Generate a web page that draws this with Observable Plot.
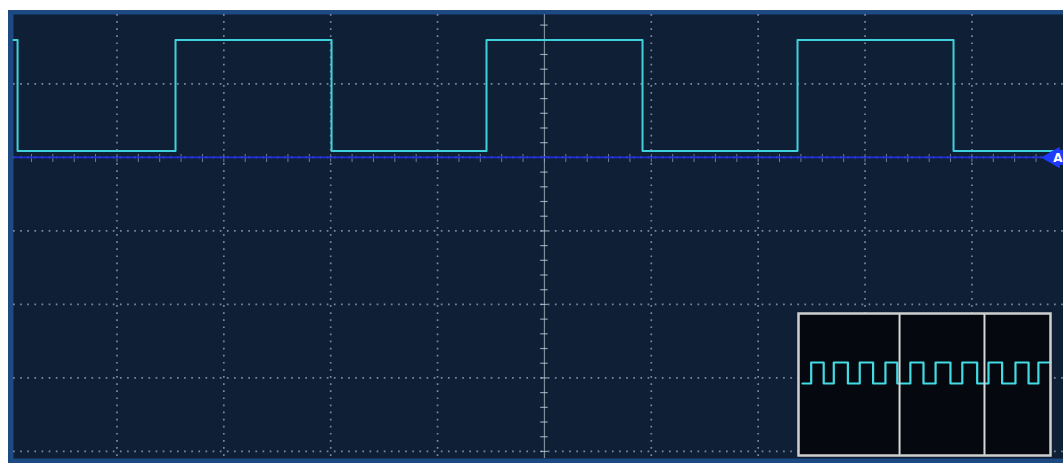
<!DOCTYPE html>
<html>
<head>
<meta charset="utf-8">
<script src="https://cdn.jsdelivr.net/npm/d3@7"></script>
<script src="https://cdn.jsdelivr.net/npm/@observablehq/plot@0.6"></script>
<style>
  html, body { margin: 0; padding: 0; background: #ffffff; overflow: hidden; }
  #wrap { position: relative; width: 1063px; height: 463px; overflow: hidden; background: #ffffff; }
  #border { position: absolute; left: 8px; top: 10px; width: 1055px; height: 453px; background: #1d4a83; }
  #main { position: absolute; left: 0; top: 0; }
  #inset { position: absolute; left: 796px; top: 311px; }
</style>
</head>
<body>
<div id="wrap">
  <div id="border"></div>
  <div id="main"></div>
  <div id="inset"></div>
</div>
<script>
// ---- data (in graticule divisions) ----
const gridX = [1, 2, 3, 4, 5, 6, 7, 8, 9];
const gridY = [-3, -2, -1, 0, 1, 2];
const viewStart = 0.032;
const viewEnd = 9.857;
const yBottom = -3.096;
const yTop = 2.944;
const centerX = 5;
const highLevel = 2.597;
const lowLevel = 1.087;
const triggerLevel = 1.0;
const triggerLabel = "A";
const mainEdges = [0.070, 1.548, 3.008, 4.458, 5.918, 7.368, 8.828]; // first edge falls
const mainStartsHigh = true;

// inset: whole record, percent of memory
const insetStart = 1.6;
const insetEnd = 100;
const insetEdges = [5.04, 10.0, 14.0, 19.6, 24.3, 29.6, 34.5, 39.2, 44.4, 49.6,
                    54.4, 60.3, 65.0, 70.9, 75.4, 80.8, 86.1, 91.3, 95.2]; // first edge rises
const insetStartsHigh = false;
const insetWindow = [40.1, 73.8];
const insetYDomain = [-4.09, 6.12];

function stepTrace(start, end, edges, startsHigh) {
  let high = startsHigh;
  const pts = [{x: start, y: high ? highLevel : lowLevel}];
  for (const e of edges) {
    high = !high;
    pts.push({x: e, y: high ? highLevel : lowLevel});
  }
  pts.push({x: end, y: high ? highLevel : lowLevel});
  return pts;
}

const trace = stepTrace(viewStart, viewEnd, mainEdges, mainStartsHigh);
const insetTrace = stepTrace(insetStart, insetEnd, insetEdges, insetStartsHigh);

const minorX = d3.range(0, 50).map(i => i / 5).filter(v => v > viewStart && v < viewEnd);
const minorY = d3.range(-16, 16).map(i => i / 5).filter(v => v > yBottom && v < yTop);

const navy = "#0f1f35";
const dotColor = "#8595ad";
const cyan = "#3fd2dc";
const markerBlue = "#1f3bff";

const main = Plot.plot({
  width: 1063,
  height: 463,
  marginLeft: 13,
  marginRight: 0,
  marginTop: 14,
  marginBottom: 5,
  style: {background: "transparent", overflow: "visible"},
  x: {domain: [viewStart, viewEnd], axis: null},
  y: {domain: [yBottom, yTop], axis: null},
  marks: [
    Plot.frame({fill: navy, stroke: null}),
    Plot.ruleX(gridX.filter(v => v !== centerX), {x: d => d, stroke: dotColor, strokeWidth: 1.7, strokeDasharray: "1.7,5.4", strokeOpacity: 0.9}),
    Plot.ruleY(gridY, {y: d => d, stroke: dotColor, strokeWidth: 1.7, strokeDasharray: "1.7,5.43", strokeOpacity: 0.9}),
    Plot.ruleX([centerX], {x: d => d, stroke: "#aeb9c8", strokeWidth: 1.2, strokeOpacity: 0.7}),
    Plot.ruleY(minorY, {y: d => d, x1: centerX - 0.035, x2: centerX + 0.035, stroke: "#c3ccd8", strokeWidth: 1.2, strokeOpacity: 0.75}),
    Plot.ruleX(minorX, {x: d => d, y1: triggerLevel - 0.07, y2: triggerLevel + 0.04, stroke: "#9aa8bc", strokeWidth: 1, strokeOpacity: 0.7}),
    Plot.ruleY([triggerLevel], {y: d => d, stroke: "#1f2fe0", strokeWidth: 1.8}),
    Plot.line(trace, {x: "x", y: "y", curve: "step-after", stroke: cyan, strokeWidth: 2}),
    Plot.dot([triggerLevel], {x: viewEnd, y: d => d, symbol: "triangle", rotate: -90, r: 8, fill: markerBlue, stroke: null, dx: -10}),
    Plot.dot([triggerLevel], {x: viewEnd, y: d => d, symbol: "square", r: 8.5, fill: markerBlue, stroke: null, dx: 0}),
    Plot.text([triggerLabel], {x: viewEnd, y: triggerLevel, text: d => d, fill: "#ffffff", fontSize: 12, fontWeight: "bold", fontFamily: "DejaVu Sans", textAnchor: "end", dx: -1, dy: 1})
  ]
});
document.getElementById("main").appendChild(main);

const inset = Plot.plot({
  width: 256,
  height: 146,
  marginLeft: 2,
  marginRight: 2,
  marginTop: 2,
  marginBottom: 2,
  style: {background: "transparent", overflow: "visible"},
  x: {domain: [0, 100], axis: null},
  y: {domain: insetYDomain, axis: null},
  marks: [
    Plot.frame({fill: "#05090f", stroke: null}),
    Plot.line(insetTrace, {x: "x", y: "y", curve: "step-after", stroke: "#44dbe4", strokeWidth: 2.2}),
    Plot.ruleX(insetWindow, {x: d => d, stroke: "#d6d6d6", strokeWidth: 2}),
    Plot.frame({stroke: "#cfcfcf", strokeWidth: 2.5, fill: null})
  ]
});
document.getElementById("inset").appendChild(inset);
</script>
</body>
</html>
